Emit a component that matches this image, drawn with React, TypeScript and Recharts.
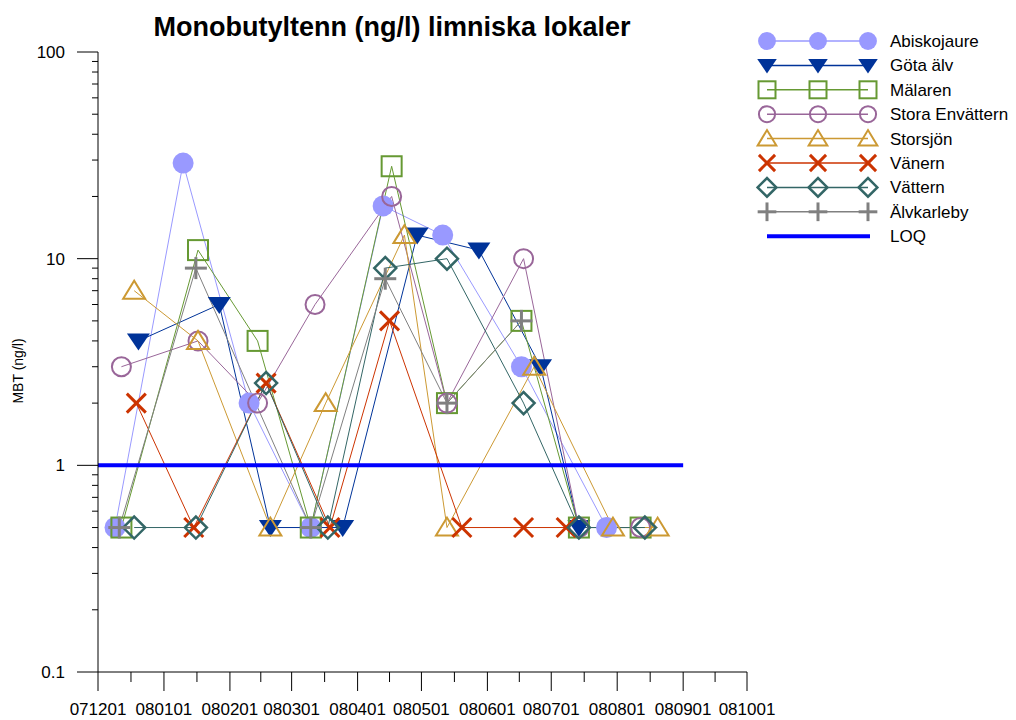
import React from 'react';
import { LineChart, Line, XAxis, YAxis, Legend } from 'recharts';

const FONT = '"Liberation Sans", Arial, sans-serif';

// sampling dates are written yymmdd, the x axis counts days from 071201
const monthLabels = ['071201', '080101', '080201', '080301', '080401', '080501', '080601', '080701', '080801', '080901', '081001'];

const abiskoDates = ['071209', '080110', '080210', '080310', '080413', '080511', '080617', '080727'];
const abiskoValues = [0.5, 29, 2, 0.5, 18, 13, 3, 0.5];

const gotaDates = ['071220', '080127', '080220', '080325', '080429', '080528', '080626', '080714'];
const gotaValues = [4, 6, 0.5, 0.5, 13, 11, 3, 0.5];

const malarenDates = ['071212', '080117', '080214', '080310', '080417', '080513', '080617', '080714', '080812'];
const malarenValues = [0.5, 11, 4, 0.5, 28, 2, 5, 0.5, 0.5];

const envattDates = ['071212', '080117', '080214', '080312', '080417', '080513', '080618', '080714', '080812'];
const envattValues = [3, 4, 2, 6, 20, 2, 10, 0.5, 0.5];

const storsjonDates = ['071218', '080117', '080220', '080317', '080423', '080513', '080623', '080730', '080820'];
const storsjonValues = [7, 4, 0.5, 2, 13, 0.5, 3, 0.5, 0.5];

const vanernDates = ['071219', '080115', '080218', '080319', '080416', '080520', '080618', '080708'];
const vanernValues = [2, 0.5, 2.5, 0.5, 5, 0.5, 0.5, 0.5];

const vatternDates = ['071218', '080116', '080218', '080318', '080414', '080513', '080618', '080714', '080814'];
const vatternValues = [0.5, 0.5, 2.5, 0.5, 9, 10, 2, 0.5, 0.5];

const alvkDates = ['071211', '080116', '080310', '080414', '080513', '080617'];
const alvkValues = [0.5, 9, 0.5, 8, 2, 5];

const loqDates = ['071201', '080901'];
const loqValues = [1, 1];

const yMajor = [0.1, 1, 10, 100];

const dayOf = (s: string) => {
  const yy = 2000 + Number(s.slice(0, 2));
  const mm = Number(s.slice(2, 4)) - 1;
  const dd = Number(s.slice(4, 6));
  return Math.round((Date.UTC(yy, mm, dd) - Date.UTC(2007, 11, 1)) / 86400000);
};

const toData = (dates: string[], values: number[]) => dates.map((s, i) => ({ d: dayOf(s), v: values[i] }));

const monthStarts = monthLabels.map(dayOf);
const monthMids = monthStarts.slice(1).map((d, i) => (d + monthStarts[i]) / 2);
const xTicks = [...monthStarts, ...monthMids].sort((a, b) => a - b);

const yTicks: number[] = [];
[0.1, 1, 10].forEach((dec) => {
  for (let k = 1; k < 10; k++) yTicks.push(+(dec * k).toPrecision(3));
});
yTicks.push(100);

type MarkerKind = 'disc' | 'triDown' | 'square' | 'circle' | 'triUp' | 'cross' | 'diamond' | 'plus';

const series = [
  { name: 'Abiskojaure', color: '#9999FF', marker: 'disc', data: toData(abiskoDates, abiskoValues) },
  { name: 'Göta älv', color: '#003399', marker: 'triDown', data: toData(gotaDates, gotaValues) },
  { name: 'Mälaren', color: '#669933', marker: 'square', data: toData(malarenDates, malarenValues) },
  { name: 'Stora Envättern', color: '#996699', marker: 'circle', data: toData(envattDates, envattValues) },
  { name: 'Storsjön', color: '#CC9933', marker: 'triUp', data: toData(storsjonDates, storsjonValues) },
  { name: 'Vänern', color: '#CC3300', marker: 'cross', data: toData(vanernDates, vanernValues) },
  { name: 'Vättern', color: '#336666', marker: 'diamond', data: toData(vatternDates, vatternValues) },
  { name: 'Älvkarleby', color: '#808080', marker: 'plus', data: toData(alvkDates, alvkValues) },
] as { name: string; color: string; marker: MarkerKind; data: { d: number; v: number }[] }[];

const loqData = toData(loqDates, loqValues);

function Mark({ kind, cx, cy, color, s = 1 }: { kind: MarkerKind; cx: number; cy: number; color: string; s?: number }) {
  switch (kind) {
    case 'disc':
      return <circle cx={cx} cy={cy} r={10.5 * s} fill={color} />;
    case 'triDown':
      return <polygon points={`${cx - 11.5 * s},${cy - 7.5 * s} ${cx + 11.5 * s},${cy - 7.5 * s} ${cx},${cy + 9.5 * s}`} fill={color} />;
    case 'square':
      return <rect x={cx - 10 * s} y={cy - 10 * s} width={20 * s} height={20 * s} fill="none" stroke={color} strokeWidth={2} />;
    case 'circle':
      return <circle cx={cx} cy={cy} r={9.5 * s} fill="none" stroke={color} strokeWidth={2} />;
    case 'triUp':
      return <polygon points={`${cx - 11 * s},${cy + 8 * s} ${cx + 11 * s},${cy + 8 * s} ${cx},${cy - 10 * s}`} fill="none" stroke={color} strokeWidth={2} />;
    case 'cross':
      return (
        <g stroke={color} strokeWidth={3}>
          <line x1={cx - 9.5 * s} y1={cy - 9.5 * s} x2={cx + 9.5 * s} y2={cy + 9.5 * s} />
          <line x1={cx - 9.5 * s} y1={cy + 9.5 * s} x2={cx + 9.5 * s} y2={cy - 9.5 * s} />
        </g>
      );
    case 'diamond':
      return <polygon points={`${cx - 11 * s},${cy} ${cx},${cy - 11 * s} ${cx + 11 * s},${cy} ${cx},${cy + 11 * s}`} fill="none" stroke={color} strokeWidth={2.5} />;
    case 'plus':
      return (
        <g stroke={color} strokeWidth={3}>
          <line x1={cx - 11 * s} y1={cy} x2={cx + 11 * s} y2={cy} />
          <line x1={cx} y1={cy - 11 * s} x2={cx} y2={cy + 11 * s} />
        </g>
      );
  }
  return null;
}

const YTick = (props: any) => {
  const { x, y, payload } = props;
  const major = yMajor.includes(payload.value);
  return (
    <g>
      <line x1={x - (major ? 21 : 6)} x2={x} y1={y} y2={y} stroke="#000" />
      {major && (
        <text x={x - 33} y={y} dy="0.35em" textAnchor="end" fontFamily={FONT} fontSize={17} fill="#000">
          {payload.value}
        </text>
      )}
    </g>
  );
};

const XTick = (props: any) => {
  const { x, y, payload } = props;
  const i = monthStarts.indexOf(payload.value);
  const major = i >= 0;
  return (
    <g>
      <line x1={x} x2={x} y1={y} y2={y + (major ? 19 : 10)} stroke="#000" />
      {major && (
        <text x={x} y={y + 43} textAnchor="middle" fontFamily={FONT} fontSize={17} fill="#000">
          {monthLabels[i]}
        </text>
      )}
    </g>
  );
};

const YLabel = (props: any) => {
  const vb = props.viewBox || { x: 0, y: 52, height: 620 };
  const cx = vb.x + 18;
  const cy = vb.y + vb.height / 2 + 9;
  return (
    <text x={cx} y={cy} transform={`rotate(-90 ${cx} ${cy})`} textAnchor="middle" dy="0.35em" fontFamily={FONT} fontSize={14} fill="#000">
      MBT (ng/l)
    </text>
  );
};

const LegendBox = () => {
  const rowGap = 24.4;
  return (
    <svg width={260} height={225}>
      {series.map((s, i) => {
        const y = 13 + i * rowGap;
        return (
          <g key={s.name}>
            <line x1={12} x2={113} y1={y} y2={y} stroke={s.color} strokeWidth={1.5} />
            {[12, 63, 113].map((mx) => (
              <Mark key={mx} kind={s.marker} cx={mx} cy={y} color={s.color} s={0.85} />
            ))}
            <text x={135} y={y} dy="0.35em" fontFamily={FONT} fontSize={17} fill="#000">
              {s.name}
            </text>
          </g>
        );
      })}
      <line x1={12} x2={115} y1={13 + 8 * rowGap} y2={13 + 8 * rowGap} stroke="#0000FF" strokeWidth={4} />
      <text x={135} y={13 + 8 * rowGap} dy="0.35em" fontFamily={FONT} fontSize={17} fill="#000">
        LOQ
      </text>
    </svg>
  );
};

export default function App() {
  return (
    <div style={{ position: 'absolute', left: 0, top: 0, width: 1016, height: 720, background: '#fff' }}>
      <div
        style={{
          position: 'absolute',
          left: 0,
          top: 12,
          width: 784,
          textAlign: 'center',
          fontFamily: FONT,
          fontWeight: 'bold',
          fontSize: 27,
          lineHeight: '31px',
          zIndex: 2,
        }}
      >
        Monobutyltenn (ng/l) limniska lokaler
      </div>
      <LineChart width={1016} height={720} margin={{ top: 52, right: 269, left: 0, bottom: 0 }}>
        <XAxis
          type="number"
          dataKey="d"
          domain={[0, 305]}
          ticks={xTicks}
          interval={0}
          tickSize={0}
          tickMargin={0}
          tick={<XTick />}
          axisLine={{ stroke: '#000' }}
          height={48}
        />
        <YAxis
          type="number"
          dataKey="v"
          scale="log"
          domain={[0.1, 100]}
          ticks={yTicks}
          interval={0}
          tickSize={0}
          tickMargin={0}
          tick={<YTick />}
          axisLine={{ stroke: '#000' }}
          width={98}
          allowDataOverflow
          label={YLabel}
        />
        <Legend
          layout="vertical"
          align="center"
          verticalAlign="middle"
          content={() => <LegendBox />}
          wrapperStyle={{ left: 755, top: 28, width: 260 }}
        />
        {series.map((s) => (
          <Line
            key={s.name}
            data={s.data}
            dataKey="v"
            name={s.name}
            type="linear"
            stroke={s.color}
            strokeWidth={1}
            isAnimationActive={false}
            activeDot={false}
            dot={(p: any) => <Mark key={`${s.name}-${p.index}`} kind={s.marker} cx={p.cx} cy={p.cy} color={s.color} />}
          />
        ))}
        <Line
          data={loqData}
          dataKey="v"
          name="LOQ"
          type="linear"
          stroke="#0000FF"
          strokeWidth={4}
          dot={false}
          activeDot={false}
          isAnimationActive={false}
        />
      </LineChart>
    </div>
  );
}
